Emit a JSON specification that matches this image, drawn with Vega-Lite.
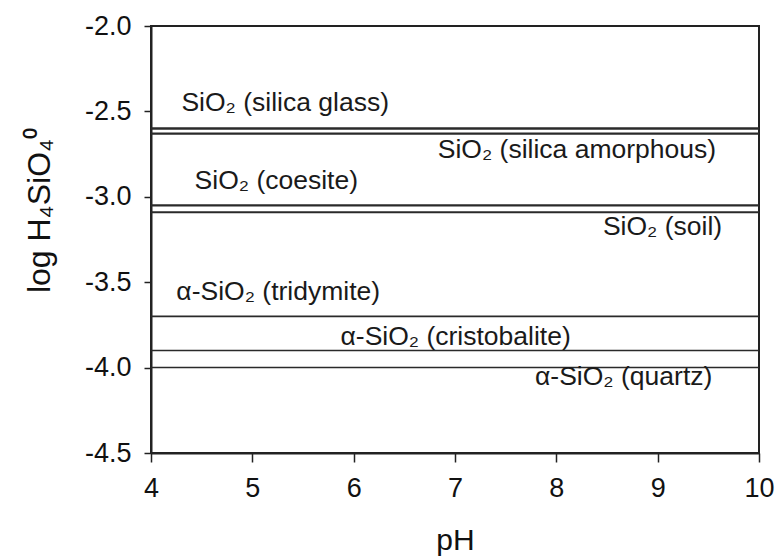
{
  "$schema": "https://vega.github.io/schema/vega-lite/v6.json",
  "autosize": "none",
  "width": 608,
  "height": 427,
  "padding": {"left": 151, "top": 26, "right": 20, "bottom": 104},
  "background": "white",
  "config": {
    "font": "Liberation Sans",
    "view": {"stroke": "#222", "strokeWidth": 2},
    "axis": {"grid": false, "labelFlush": false, "domainColor": "#222", "domainWidth": 2, "tickColor": "#222", "tickWidth": 1.5, "labelColor": "#111", "titleColor": "#111", "labelFont": "Liberation Sans", "titleFont": "Liberation Sans", "titleFontWeight": "normal"}
  },
  "data": {
    "values": [
      {"mineral": "silica glass", "logK": -2.60, "label": "SiO₂ (silica glass)", "labelPH": 4.30, "labelLog": -2.45},
      {"mineral": "silica amorphous", "logK": -2.63, "label": "SiO₂ (silica amorphous)", "labelPH": 6.83, "labelLog": -2.726},
      {"mineral": "coesite", "logK": -3.05, "label": "SiO₂ (coesite)", "labelPH": 4.43, "labelLog": -2.91},
      {"mineral": "soil", "logK": -3.09, "label": "SiO₂ (soil)", "labelPH": 8.46, "labelLog": -3.176},
      {"mineral": "tridymite", "logK": -3.70, "label": "α-SiO₂ (tridymite)", "labelPH": 4.25, "labelLog": -3.556},
      {"mineral": "cristobalite", "logK": -3.90, "label": "α-SiO₂ (cristobalite)", "labelPH": 5.87, "labelLog": -3.82},
      {"mineral": "quartz", "logK": -4.00, "label": "α-SiO₂ (quartz)", "labelPH": 7.79, "labelLog": -4.055}
    ]
  },
  "layer": [
    {
      "mark": {"type": "rule", "color": "#2a2a2a"},
      "encoding": {
        "y": {
          "field": "logK", "type": "quantitative",
          "scale": {"domain": [-4.5, -2.0], "nice": false, "zero": false},
          "axis": {
            "values": [-4.5, -4.0, -3.5, -3.0, -2.5, -2.0],
            "labelExpr": "replace(format(datum.value, '.1f'), '−', '-')",
            "labelFontSize": 27, "labelPadding": 13, "tickSize": 7,
            "title": "log H₄SiO₄⁰", "titleFontSize": 32, "titleAngle": -90,
            "titleX": -112, "titleY": 184, "titleAlign": "center", "titleBaseline": "middle"
          }
        },
        "strokeWidth": {
          "field": "mineral", "type": "nominal",
          "scale": {"domain": ["silica glass", "silica amorphous", "coesite", "soil", "tridymite", "cristobalite", "quartz"], "range": [2.5, 1.5, 1.8, 1.8, 1.5, 2.5, 1.5]},
          "legend": null
        }
      }
    },
    {
      "mark": {"type": "text", "align": "left", "baseline": "middle", "fontSize": 26.5, "color": "#1a1a1a", "font": "Liberation Sans"},
      "encoding": {
        "x": {
          "field": "labelPH", "type": "quantitative",
          "scale": {"domain": [4, 10], "nice": false, "zero": false},
          "axis": {
            "values": [4, 5, 6, 7, 8, 9, 10],
            "labelFontSize": 27, "labelPadding": 13, "tickSize": 9,
            "title": "pH", "titleFontSize": 30, "titlePadding": 24
          }
        },
        "y": {"field": "labelLog", "type": "quantitative"},
        "text": {"field": "label"}
      }
    }
  ]
}
